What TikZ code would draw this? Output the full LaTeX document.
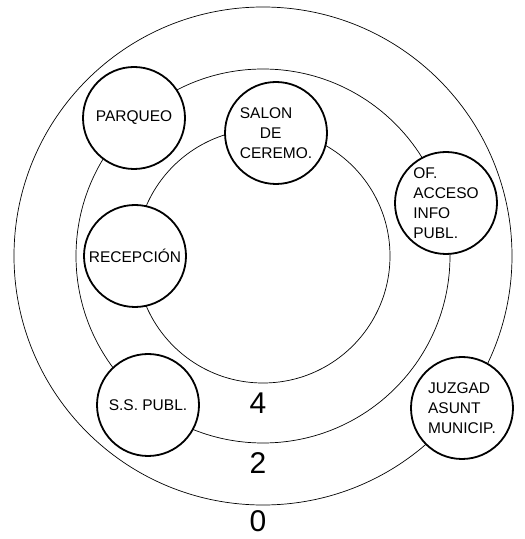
\documentclass[tikz,border=0pt]{standalone}
\usepackage{fontspec}
\setmainfont{Liberation Sans}
\usetikzlibrary{positioning}
\tikzset{
  ring/.style={
    circle, draw=black, line width=0.7pt, inner sep=0pt
  },
  room/.style={
    circle, draw=black, fill=white, line width=1.8pt,
    minimum size=102pt, inner sep=0pt, align=left,
    font=\fontsize{15.5}{20}\selectfont
  },
  level/.style={
    inner sep=0pt, font=\fontsize{30}{30}\selectfont
  },
}

\begin{document}
\begin{tikzpicture}[x=1pt, y=1pt, node distance=9pt]
    \useasboundingbox (0,0) rectangle (525,539);
    \coordinate (c) at (263,283);

    %% Rings
    \node[ring, minimum size=498pt] (ring0) at (c) {};
    \node[ring, minimum size=374pt] (ring2) at (c) {};
    \node[ring, minimum size=254pt] (ring4) at (c) {};

    %% Levels
    \node[level, below=of ring4, xshift=-5pt] (lv4) {4};
    \node[level, below=of ring2, xshift=-5pt] (lv2) {2};
    \node[level, below=5pt of ring0, xshift=-5pt] (lv0) {0};

    %% Rooms
    \node[room] (parqueo) at (134,421) {PARQUEO};
    \node[room] (salon) at (276,406) {SALON\\\hspace*{1.3em}DE\\CEREMO.};
    \node[room] (recepcion) at (135,283) {RECEPCIÓN};
    \node[room] (acceso) at (446,336) {OF.\\ACCESO\\INFO\\PUBL.};
    \node[room] (sspubl) at (148,134) {S.S. PUBL.};
    \node[room] (juzgado) at (462,131) {JUZGAD\\ASUNT\\MUNICIP.};

  \end{tikzpicture}
\end{document}
